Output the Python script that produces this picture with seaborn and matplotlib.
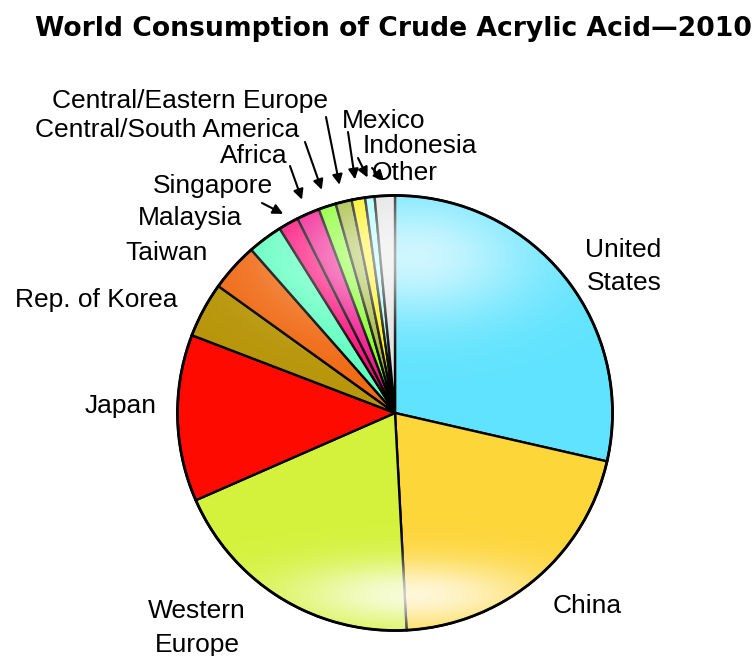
import numpy as np
import matplotlib
matplotlib.use("Agg")
import matplotlib.pyplot as plt
from matplotlib import font_manager
from matplotlib.patches import Circle
import seaborn as sns

# ---------------- data ----------------
regions = ["United States", "China", "Western Europe", "Japan", "Rep. of Korea",
           "Taiwan", "Malaysia", "Singapore", "Africa", "Central/South America",
           "Central/Eastern Europe", "Mexico", "Indonesia", "Other"]
shares = [28.6, 20.6, 19.3, 12.4, 4.1, 3.6, 2.6, 1.5, 1.7, 1.3, 1.2, 1.0, 0.7, 1.5]
slice_colors = ["#5FE3FE", "#FDD63A", "#D4F23C", "#FF0A00", "#B8960A",
                "#F06A14", "#60FFC0", "#FF0A78", "#F0148C", "#80FF20",
                "#A0B830", "#FFF000", "#A0FFFF", "#E0E0E0"]
title_text = "World Consumption of Crude Acrylic Acid\u20142010"

sns.set_theme(style="white")
plt.rcParams["font.family"] = ["Liberation Sans", "DejaVu Sans"]

W, H = 755, 656
fig = plt.figure(figsize=(W / 100, H / 100), dpi=100)
ax = fig.add_axes([0, 0, 1, 1])

def Y(ypx):
    return H - ypx

cx, cy, R = 395, Y(413), 217.5

wedges, _ = ax.pie(shares, colors=slice_colors, startangle=90, counterclock=False,
                   center=(cx, cy), radius=R, frame=True,
                   wedgeprops=dict(edgecolor="black", linewidth=1.7))
ax.set_aspect("auto")
ax.axis("off")

# glossy highlight overlay
n = 400
u = np.linspace(-1, 1, n)
v = np.linspace(1, -1, n)
UU, VV = np.meshgrid(u, v)
a_top = 0.70 * np.exp(-((UU - 0.08) ** 2 / (2 * 0.40 ** 2) + (VV - 0.72) ** 2 / (2 * 0.21 ** 2)))
a_bot = 0.80 * np.exp(-((UU - 0.08) ** 2 / (2 * 0.42 ** 2) + (VV + 0.84) ** 2 / (2 * 0.11 ** 2)))
alpha = np.clip(a_top + a_bot, 0, 0.85)
img = np.ones((n, n, 4))
img[..., 3] = alpha
im = ax.imshow(img, extent=[cx - R, cx + R, cy - R, cy + R], zorder=3,
               interpolation="bilinear", aspect="auto")
clip = Circle((cx, cy), R, transform=ax.transData, facecolor="none", edgecolor="none")
ax.add_patch(clip)
im.set_clip_path(clip)
ax.add_patch(Circle((cx, cy), R, facecolor="none", edgecolor="black", linewidth=2.0, zorder=4))
ax.set_xlim(0, W)
ax.set_ylim(0, H)

# ---------------- labels ----------------
FS = 19
plain_labels = [
    ("United", 585, 257, "left"), ("States", 587, 290, "left"),
    ("China", 553, 613, "left"),
    ("Western", 197, 618, "center"), ("Europe", 197, 652, "center"),
    ("Japan", 85, 413, "left"),
    ("Rep. of Korea", 15, 307, "left"),
    ("Taiwan", 125, 260, "left"),
    ("Malaysia", 138, 225, "left"),
]
for txt, x, yb, ha in plain_labels:
    ax.text(x, Y(yb), txt, fontsize=FS, ha=ha, va="baseline", color="black", zorder=6)

arrow_labels = [
    # name, text x, baseline, arrow start (px), tip radius factor
    ("Singapore", 153, 193, (262, 203), 1.05),
    ("Africa", 220, 163, (290, 166), 1.07),
    ("Central/South America", 35, 137, (305, 142), 1.08),
    ("Central/Eastern Europe", 52, 108, (326, 117), 1.08),
    ("Mexico", 342, 128, (348, 132), 1.09),
    ("Indonesia", 363, 153, (358, 158), 1.09),
    ("Other", 372, 180, (372, 168), 1.07),
]
for name, x, yb, start, rf in arrow_labels:
    ax.text(x, Y(yb), name, fontsize=FS, ha="left", va="baseline", color="black", zorder=6)
    w = wedges[regions.index(name)]
    mid = np.deg2rad((w.theta1 + w.theta2) / 2)
    tip = (cx + rf * R * np.cos(mid), cy + rf * R * np.sin(mid))
    ax.annotate("", xy=tip, xytext=(start[0], Y(start[1])),
                arrowprops=dict(arrowstyle="-|>", color="black", lw=1.5,
                                mutation_scale=15, shrinkA=0, shrinkB=0), zorder=6)

# ---------------- title ----------------
names = {f.name for f in font_manager.fontManager.ttflist}
tfam = ["Liberation Sans Narrow", "DejaVu Sans"] if "Liberation Sans Narrow" in names else ["DejaVu Sans"]
t = ax.text(35, Y(36), title_text, fontsize=24, fontweight="bold", family=tfam,
            ha="left", va="baseline", color="black", zorder=6)
fig.canvas.draw()
bb = t.get_window_extent(renderer=fig.canvas.get_renderer())
t.set_fontsize(24 * 717.0 / bb.width)

fig.savefig("out.png", dpi=100, facecolor="white")
